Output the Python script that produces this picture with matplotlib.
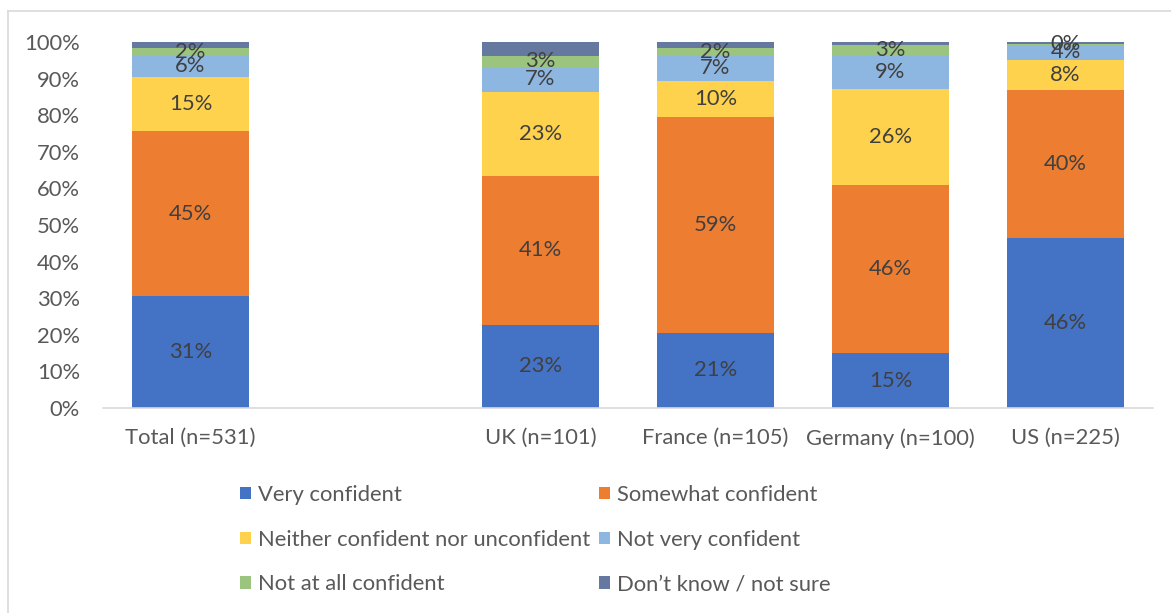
import matplotlib
matplotlib.use("Agg")
import matplotlib.pyplot as plt
from matplotlib.lines import Line2D
from matplotlib.patches import Patch
import numpy as np

plt.rcParams['font.family'] = ['Lato', 'DejaVu Sans']

# data (share of respondents, %)
groups = ["Total (n=531)", "", "UK (n=101)", "France (n=105)", "Germany (n=100)", "US (n=225)"]
series = ["Very confident", "Somewhat confident",
          "Neither confident nor unconfident", "Not very confident",
          "Not at all confident", "Don\u2019t know / not sure"]
very      = [30.6, 0, 22.7, 20.6, 15.0, 46.4]
somewhat  = [45.0, 0, 40.7, 58.9, 45.9, 40.4]
neither   = [14.8, 0, 22.9,  9.8, 26.3,  8.3]
not_very  = [ 6.0, 0,  7.0,  7.0,  9.2,  4.2]
not_at_all= [ 2.0, 0,  3.0,  2.1,  2.9,  0.2]
dont_know = [ 1.6, 0,  3.7,  1.6,  0.7,  0.5]
values = [very, somewhat, neither, not_very, not_at_all, dont_know]
colors = ["#4472C4", "#ED7D31", "#FFD24D", "#8DB6E1", "#9BC57F", "#6478A0"]

fs = 15.8

fig = plt.figure(figsize=(11.71, 6.13), dpi=100)
ax = fig.add_axes([103/1171, 1-408/613, 1050/1171, 366/613])

x = np.arange(len(groups))
mask = np.array([g != "" for g in groups])
bottom = np.zeros(len(groups))
for i, (vals, c) in enumerate(zip(values, colors)):
    vals = np.array(vals)
    ax.bar(x[mask], vals[mask], width=0.665, bottom=bottom[mask], color=c)
    if i < 5:
        for xi, b, v in zip(x[mask], bottom[mask], vals[mask]):
            ax.text(xi, b + v/2, f"{v:.0f}%", ha='center', va='center',
                    fontsize=fs, color='#404040')
    bottom += vals

ax.set_xlim(-0.5, 5.5)
ax.set_ylim(0, 100)
ax.set_yticks(range(0, 101, 10))
ax.set_yticklabels([f"{t}%" for t in range(0, 101, 10)])
ax.set_xticks(x)
ax.set_xticklabels(groups)
ax.tick_params(axis='both', length=0, labelsize=fs, labelcolor='#595959')
ax.tick_params(axis='y', pad=16.5)
ax.tick_params(axis='x', pad=14.5)
for s in ['top', 'right', 'left']:
    ax.spines[s].set_visible(False)
ax.spines['bottom'].set_color('#D9D9D9')
ax.spines['bottom'].set_linewidth(1.2)

# legend filled row by row like the original
handles = [Patch(facecolor=c, label=s) for s, c in zip(series, colors)]
order = [0, 2, 4, 1, 3, 5]
leg = fig.legend(handles=[handles[k] for k in order], ncol=2, loc='upper left',
                 bbox_to_anchor=(240/1171, 1-485/613), frameon=False,
                 fontsize=fs, handlelength=0.5, handleheight=0.5,
                 handletextpad=0.3, columnspacing=0.42, labelspacing=1.12,
                 borderaxespad=0, borderpad=0)
for t in leg.get_texts():
    t.set_color('#595959')

# chart area border
fig.add_artist(Line2D([8/1171, 8/1171], [0, 1-11/613], transform=fig.transFigure,
                      color='#D9D9D9', lw=1.2))
fig.add_artist(Line2D([8/1171, 1], [1-11/613, 1-11/613], transform=fig.transFigure,
                      color='#D9D9D9', lw=1.2))

fig.savefig("out.png", dpi=100, facecolor='white')
